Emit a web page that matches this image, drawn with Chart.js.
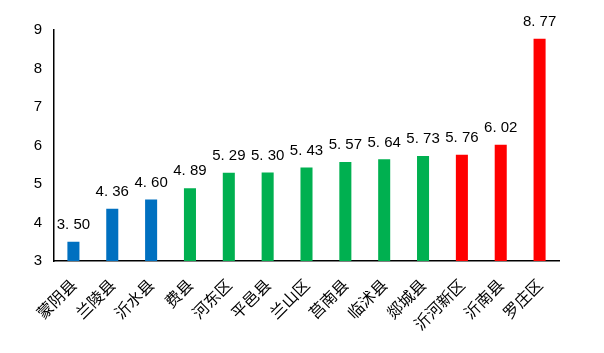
<!DOCTYPE html>
<html>
<head>
<meta charset="utf-8">
<script src="https://cdn.jsdelivr.net/npm/chart.js@4"></script>
<style>
  html, body { margin: 0; padding: 0; background: #fff; }
  #wrap { width: 604px; height: 353px; }
</style>
</head>
<body>
<div id="wrap"><canvas id="myChart" width="604" height="353"></canvas></div>
<script>
var categories = ['蒙阴县', '兰陵县', '沂水县', '费县', '河东区', '平邑县', '兰山区', '莒南县', '临沭县', '郯城县', '沂河新区', '沂南县', '罗庄区'];
var values = [3.50, 4.36, 4.60, 4.89, 5.29, 5.30, 5.43, 5.57, 5.64, 5.73, 5.76, 6.02, 8.77];
var barColors = ['#0070C0', '#0070C0', '#0070C0',
  '#00B050', '#00B050', '#00B050', '#00B050', '#00B050', '#00B050', '#00B050',
  '#FF0000', '#FF0000', '#FF0000'];
var yMin = 3, yMax = 9;

// value labels above bars
var valueLabels = {
  id: 'valueLabels',
  afterDatasetsDraw: function(chart){
    var ctx = chart.ctx;
    var meta = chart.getDatasetMeta(0);
    ctx.save();
    ctx.font = '15px "Liberation Sans", Arial, sans-serif';
    ctx.fillStyle = '#000';
    ctx.textAlign = 'center';
    ctx.textBaseline = 'middle';
    meta.data.forEach(function(bar, i){
      var txt = values[i].toFixed(2).replace('.', '. ');
      ctx.fillText(txt, bar.x, bar.y - 17);
    });
    ctx.restore();
  }
};

var ctx = document.getElementById('myChart').getContext('2d');
var myChart = new Chart(ctx, {
  type: 'bar',
  data: {
    labels: categories,
    datasets: [{
      data: values,
      backgroundColor: barColors,
      categoryPercentage: 1,
      barPercentage: 0.31
    }]
  },
  options: {
    responsive: false,
    animation: false,
    layout: { padding: { left: 0, right: 45, top: 30, bottom: 0 } },
    plugins: {
      legend: { display: false },
      tooltip: { enabled: false }
    },
    scales: {
      x: {
        grid: { display: false, drawTicks: false },
        border: { display: true, color: '#000', width: 1.5 },
        ticks: {
          color: '#000',
          font: { family: '"Noto Sans CJK SC", sans-serif', size: 16 },
          minRotation: 45,
          maxRotation: 45,
          padding: 14,
          autoSkip: false
        },
        afterFit: function(scale){ scale.height = 92; }
      },
      y: {
        min: yMin,
        max: yMax,
        grid: { display: false, drawTicks: false },
        border: { display: true, color: '#000', width: 1.5 },
        ticks: {
          stepSize: 1,
          color: '#000',
          font: { family: '"Liberation Sans", Arial, sans-serif', size: 15 },
          padding: 12
        },
        afterFit: function(scale){ scale.width = 54; }
      }
    }
  },
  plugins: [valueLabels]
});
</script>
</body>
</html>
